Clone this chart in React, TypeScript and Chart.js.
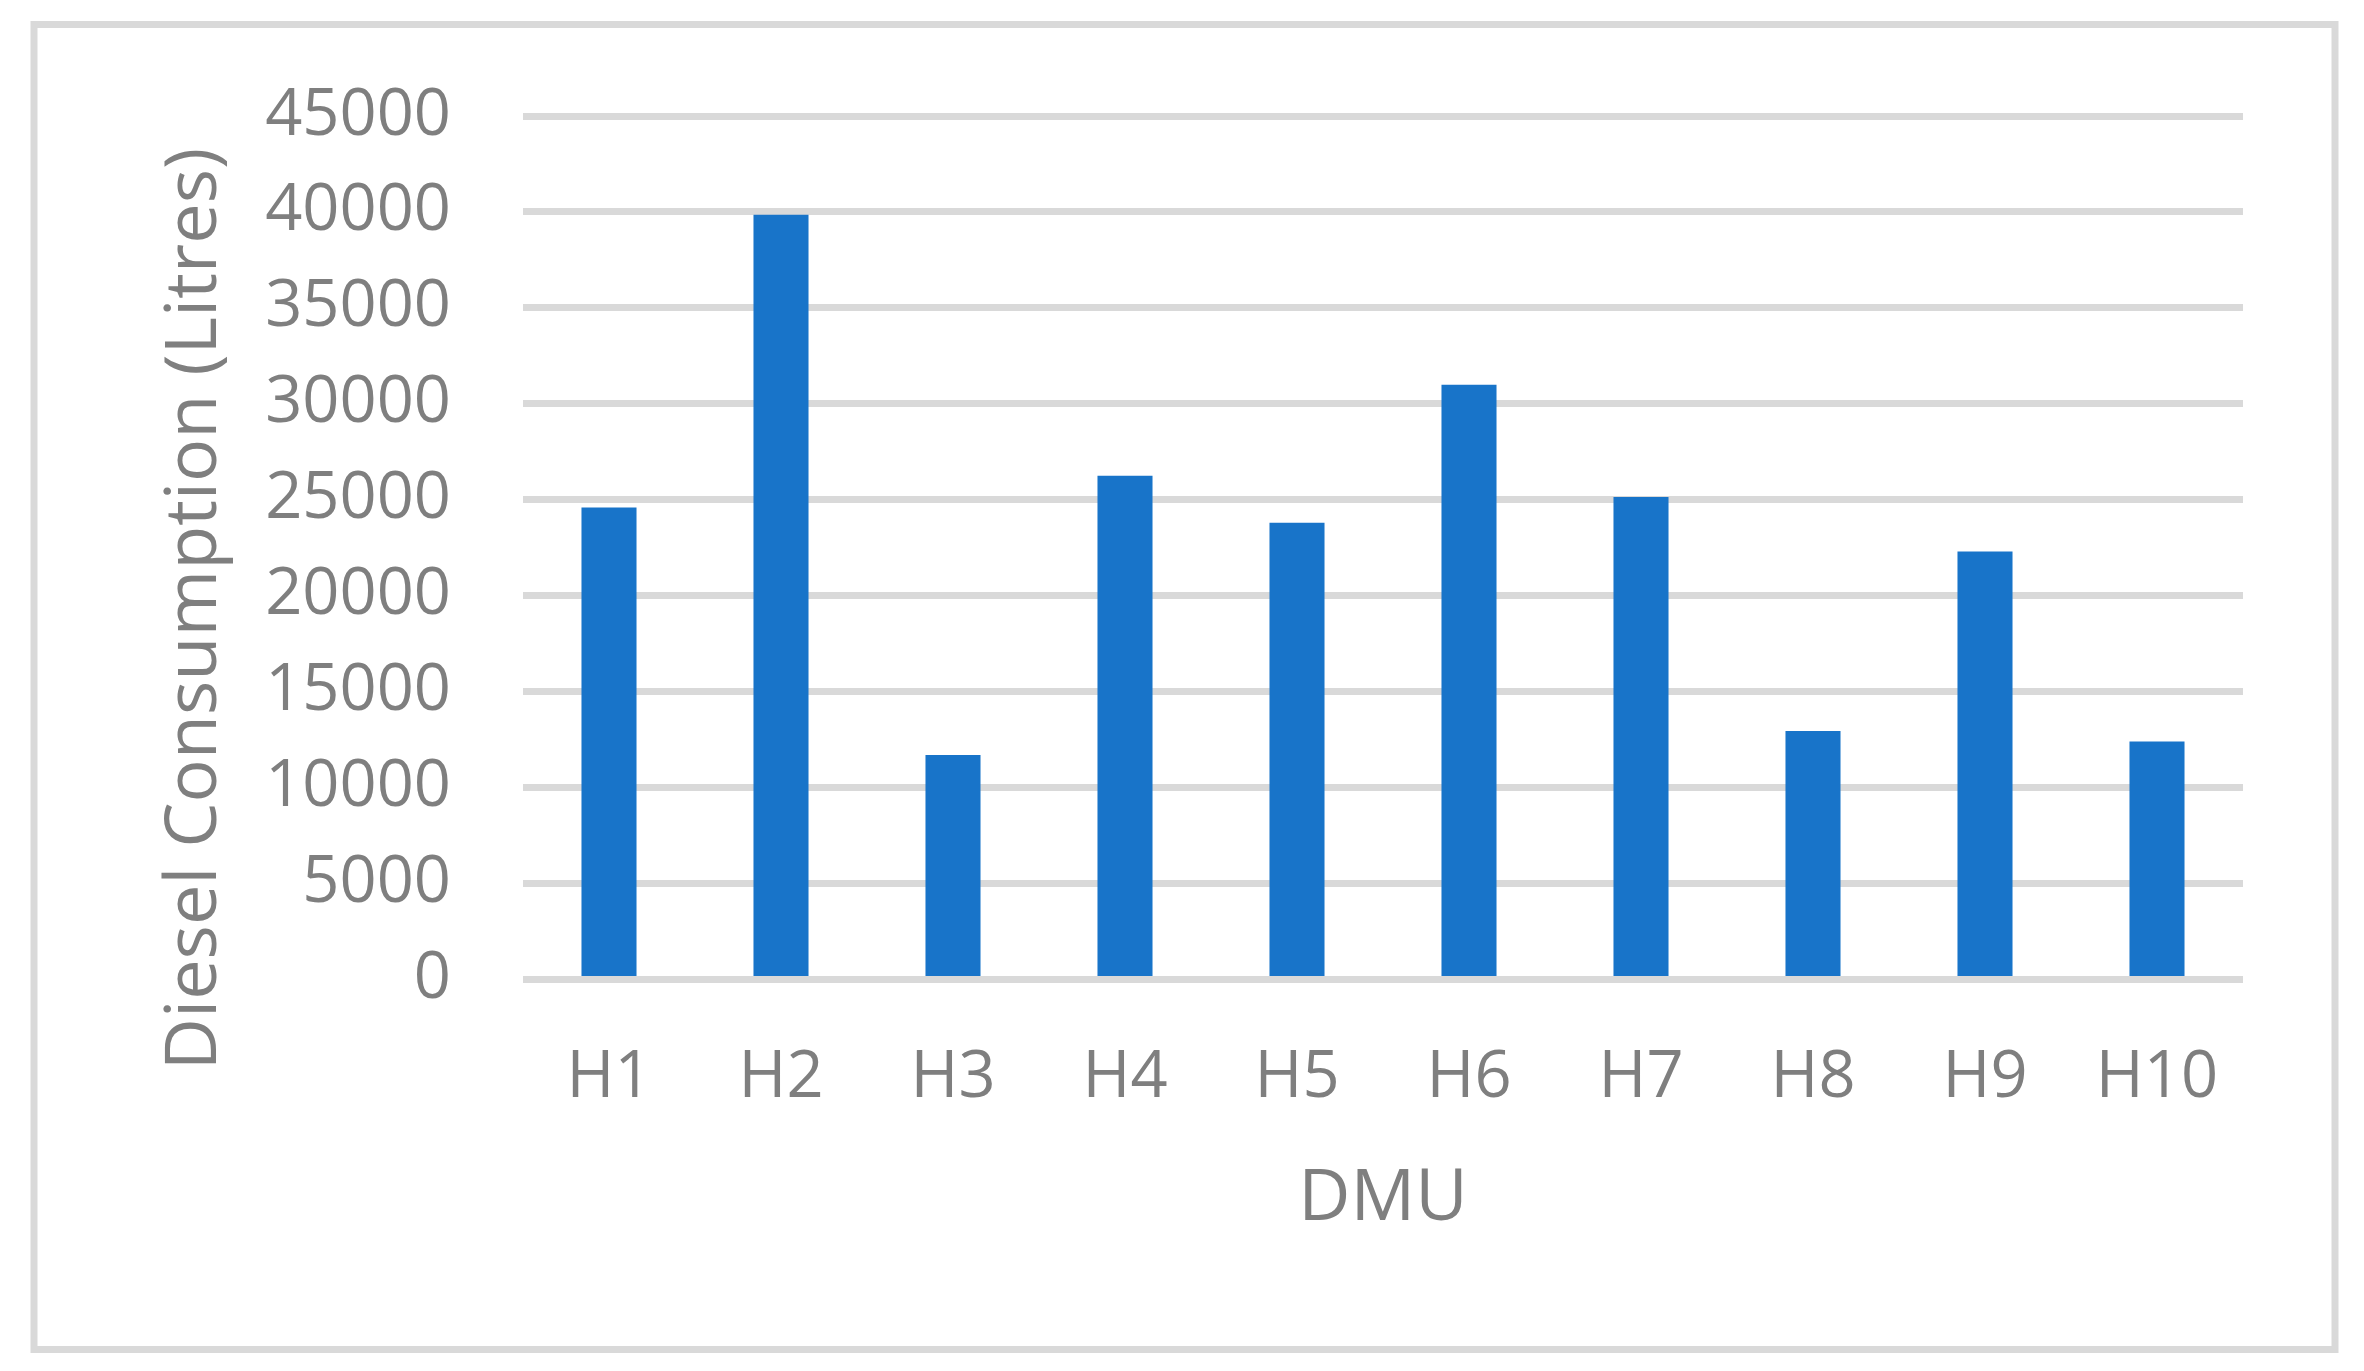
import React, { useEffect, useRef } from "react";
import { Chart, registerables } from "chart.js";

Chart.register(...registerables);

const categories = ["H1", "H2", "H3", "H4", "H5", "H6", "H7", "H8", "H9", "H10"];
const dieselLitres = [24600, 39850, 11700, 26250, 23800, 31000, 25150, 12950, 22300, 12400];
const yTicks = [0, 5000, 10000, 15000, 20000, 25000, 30000, 35000, 40000, 45000];
const yTitle = "Diesel Consumption (Litres)";
const xTitle = "DMU";

const FONT = "'Open Sans', 'Noto Sans', sans-serif";
const TEXT = "#7f7f7f";
const GRID = "#d9d9d9";
const BAR = "#1874C9";

const framePlugin = {
  id: "frame",
  afterDraw(chart: any) {
    const ctx = chart.ctx;
    ctx.save();
    ctx.strokeStyle = GRID;
    ctx.lineWidth = 7;
    ctx.strokeRect(34, 24.5, 2301, 1325);
    ctx.fillStyle = TEXT;
    ctx.font = `72px ${FONT}`;
    ctx.textAlign = "center";
    ctx.textBaseline = "middle";
    ctx.translate(195, 609);
    ctx.rotate(-Math.PI / 2);
    ctx.fillText(yTitle, 0, 0);
    ctx.restore();
  },
};

export default function App() {
  const ref = useRef<HTMLCanvasElement>(null);
  useEffect(() => {
    if (!ref.current) return;
    const chart = new Chart(ref.current, {
      type: "bar",
      data: {
        labels: categories,
        datasets: [
          {
            data: dieselLitres,
            backgroundColor: BAR,
            barPercentage: 0.32,
            categoryPercentage: 1,
          },
        ],
      },
      options: {
        animation: false,
        responsive: false,
        maintainAspectRatio: false,
        layout: { padding: { left: 0, right: 121, top: 116, bottom: 0 } },
        plugins: { legend: { display: false }, tooltip: { enabled: false } },
        scales: {
          x: {
            grid: { display: false, drawTicks: false },
            border: { display: false },
            ticks: { color: TEXT, font: { family: FONT, size: 65 }, padding: 60 },
            title: {
              display: true,
              text: xTitle,
              color: TEXT,
              font: { family: FONT, size: 72 },
              padding: { top: 0, bottom: 128 },
            },
            afterFit: (s: any) => {
              s.height = 391.5;
            },
          },
          y: {
            min: 0,
            max: 45000,
            afterBuildTicks: (s: any) => {
              s.ticks = yTicks.map((v) => ({ value: v }));
            },
            grid: { color: GRID, lineWidth: 7, drawTicks: false },
            border: { display: false },
            ticks: {
              color: TEXT,
              font: { family: FONT, size: 65 },
              padding: 72,
              callback: (v: any) => String(v),
            },
            afterFit: (s: any) => {
              s.width = 523;
            },
          },
        },
      },
      plugins: [framePlugin],
    });
    return () => chart.destroy();
  }, []);
  return (
    <div style={{ position: "fixed", left: 0, top: 0, width: 2364, height: 1371, background: "#fff" }}>
      <canvas ref={ref} width={2364} height={1371} style={{ width: 2364, height: 1371, display: "block" }} />
    </div>
  );
}
